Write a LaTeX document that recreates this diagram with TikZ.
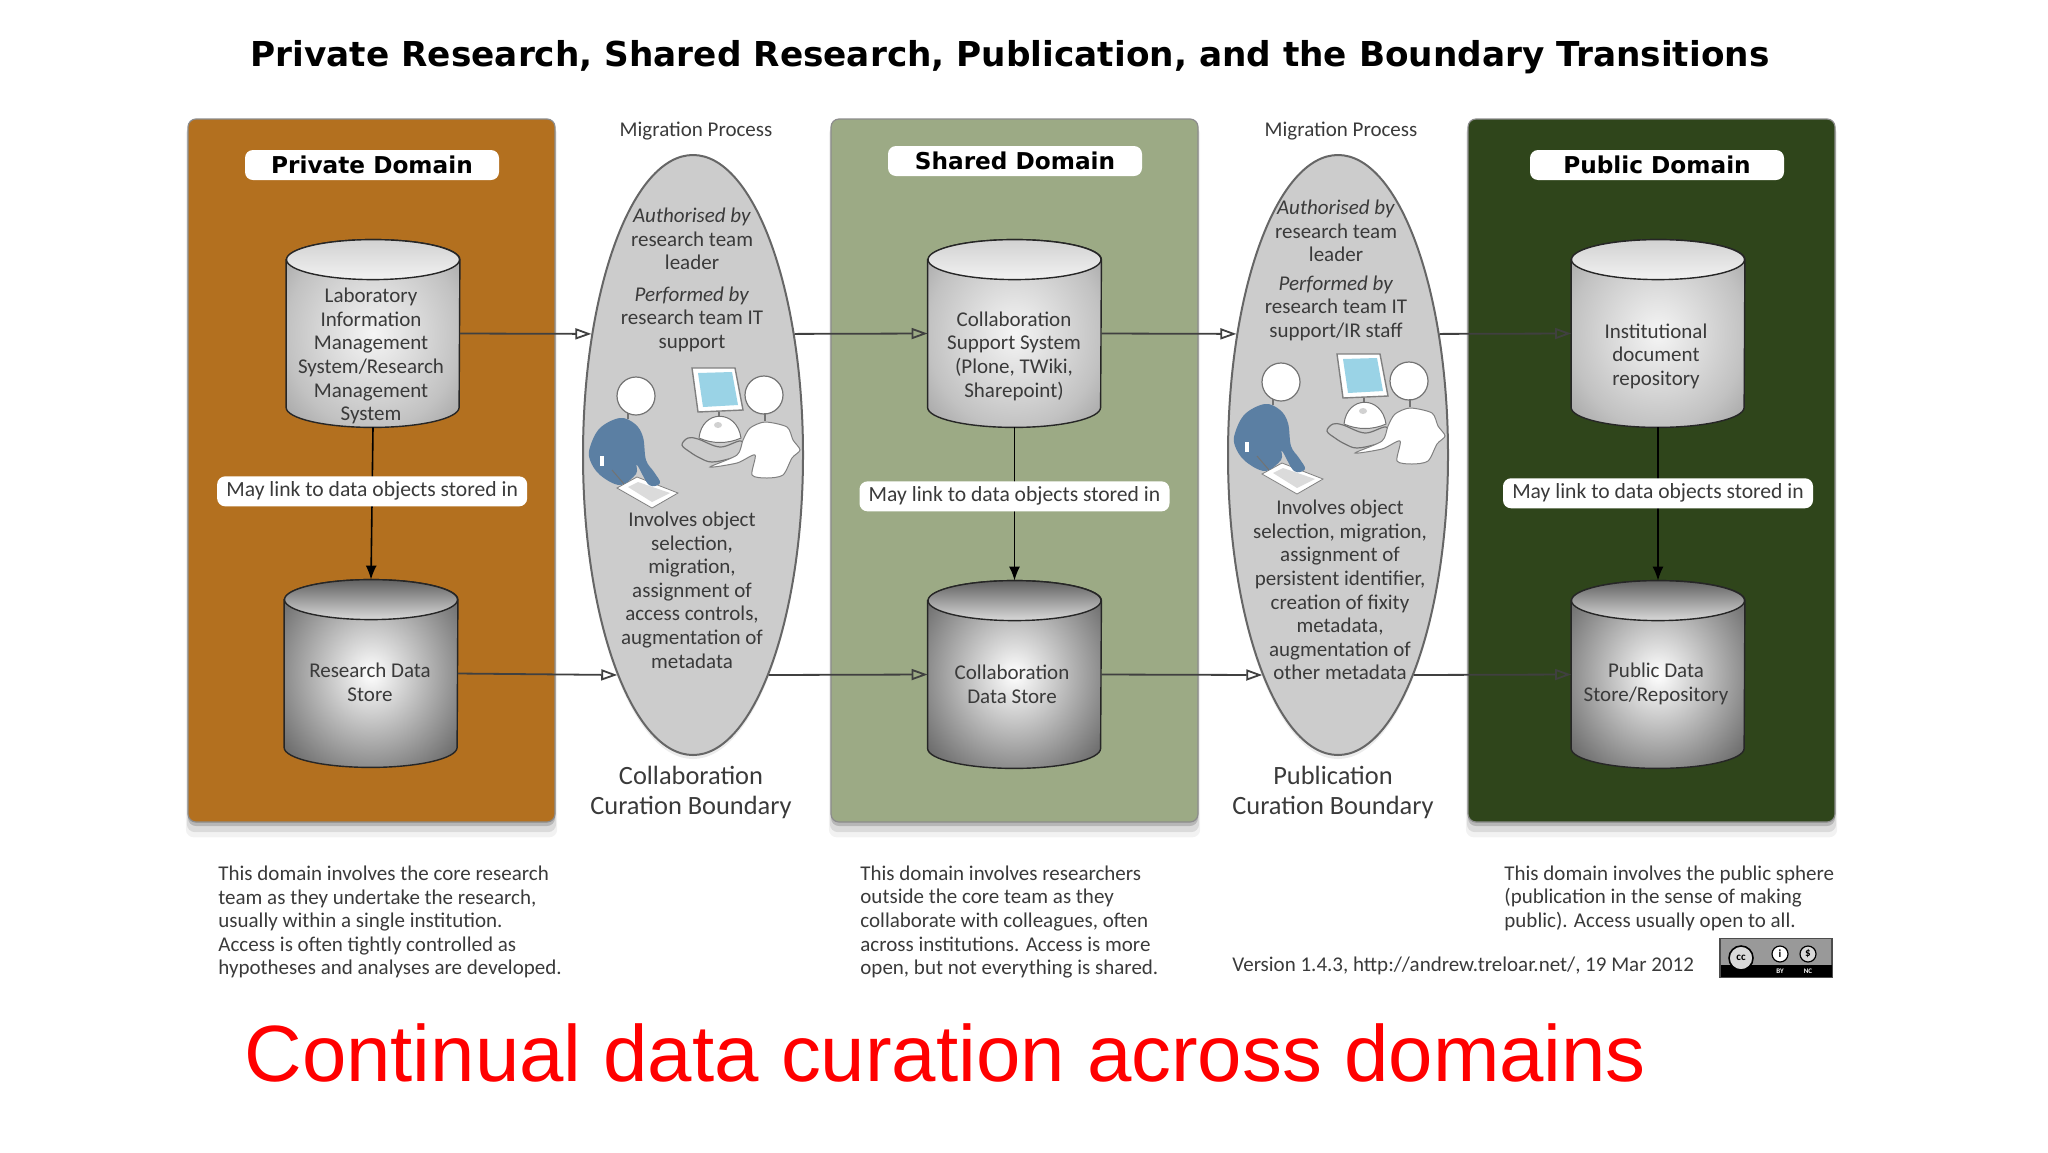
\documentclass[tikz,border=0pt]{standalone}
\usepackage{fontspec}
\setmainfont{Carlito}
\newfontfamily\headfont{DejaVu Sans}
\newfontfamily\redfont{Liberation Sans}
\usetikzlibrary{shapes.geometric,arrows.meta,shadows}

\definecolor{privcol}{HTML}{B3701F}
\definecolor{sharecol}{HTML}{9CAA85}
\definecolor{pubcol}{HTML}{2F451B}
\definecolor{bodytext}{HTML}{3A3A3A}
\definecolor{shirtcol}{HTML}{5B7FA3}
\definecolor{screencol}{HTML}{9AD3E6}

\pgfdeclareradialshading{glowlight}{\pgfpoint{0bp}{0bp}}{color(0bp)=(black!4);color(25bp)=(black!24);color(40bp)=(black!42);color(50bp)=(black!42)}
\pgfdeclareradialshading{glowdark}{\pgfpoint{0bp}{0bp}}{color(0bp)=(white);color(25bp)=(black!45);color(40bp)=(black!72);color(50bp)=(black!72)}

\tikzset{
	panelbox/.style={draw=black!45,line width=.6pt,rounded corners=4pt,minimum width=183.5pt,minimum height=351.5pt,inner sep=0pt,
		drop shadow={shadow xshift=0pt,shadow yshift=-5.5pt,shadow scale=1.012,opacity=.1},
		drop shadow={shadow xshift=0pt,shadow yshift=-4pt,shadow scale=1.006,opacity=.2},
		drop shadow={shadow xshift=0pt,shadow yshift=-2pt,opacity=.4}},
	titlebox/.style={fill=white,rounded corners=4pt,minimum width=127pt,minimum height=15pt,inner sep=0pt,text=black,font=\headfont\bfseries\fontsize{11.6}{13}\selectfont},
	linkbox/.style={fill=white,rounded corners=4pt,minimum width=155pt,minimum height=15pt,inner sep=0pt,text=bodytext,font=\fontsize{10.8}{12}\selectfont},
	boundary/.style={ellipse,draw=black!60,line width=1pt,fill=black!20,minimum width=110pt,minimum height=300pt,inner sep=0pt,drop shadow={shadow xshift=0pt,shadow yshift=-2pt,opacity=.15}},
	dbstore/.style={minimum width=86.5pt,minimum height=93.5pt,inner sep=0pt},
	dbline/.style={draw=black!85,line width=.7pt},
	dblight/.style={dbline,shading=glowlight},
	dbdark/.style={dbline,shading=glowdark},
	caplight/.style={dbline,top color=black!18,bottom color=black!5},
	capdark/.style={dbline,top color=black!62,bottom color=black!15},
	bodylabel/.style={align=center,text=bodytext,font=\fontsize{10.5}{11.8}\selectfont,inner sep=0pt},
	notelabel/.style={align=left,anchor=west,text=bodytext,font=\fontsize{10.5}{11.8}\selectfont,inner sep=0pt},
	flowline/.style={draw=black!75,line width=.9pt,-{Triangle[open,length=8pt,width=5.5pt]}},
	linkline/.style={draw=black,line width=.8pt,-{Latex[length=7pt,width=5.5pt]}},
	meeting/.pic={
		\draw [black!55,fill=white,line width=.6pt](636,396) circle (9.5pt);
		\draw [black!55,fill=white,line width=.6pt](764,395) circle (9.5pt);
		\draw [black!55,line width=.6pt](628,413)--(628,419);
		\draw [black!55,line width=.6pt](765,413)--(765,421);
		\draw [black!50,fill=white,line width=.4pt](617,488)--(637,477)--(678,493)--(652,508)--cycle;
		\fill [black!14](628,487)--(638,482)--(670,493)--(652,502)--cycle;
		\fill [shirtcol] plot [smooth cycle,tension=.6] coordinates {(620,418)(635,424)(643,437)(646,460)(654,472)(660,483)(649,485)(637,465)(636,474)(620,485)(600,475)(590,460)(590,447)(600,428)};
		\draw [white,line width=2pt](602,456)--(602,466);
		\draw [black!55,line width=.5pt](612,470)--(624,484);
		\draw [black!50,fill=white,line width=.7pt](692,368)--(735,368)--(743,410)--(698,412)--cycle;
		\fill [screencol](698,373)--(732,372)--(738,405)--(703,407)--cycle;
		\draw [black!55,line width=.6pt](719,412)--(719,416);
		\draw [black!55,fill=black!20,line width=.6pt] plot [smooth cycle,tension=.6] coordinates {(682,445)(688,438)(698,439)(720,447)(741,441)(745,452)(732,458)(712,462)(700,458)(690,452)};
		\draw [black!55,fill=white,line width=.5pt](699,438) .. controls (702,409) and (737,409) .. (741,438) .. controls (728,444) and (712,444) .. (699,438);
		\fill [black!18](718,425) ellipse (4 and 3);
		\draw [black!50,fill=white,line width=.5pt] plot [smooth cycle,tension=.45] coordinates {(765,422)(787,427)(793,440)(800,450)(792,458)(783,475)(767,478)(752,475)(755,455)(737,463)(710,467)(737,455)(743,440)(750,428)};
	},
}

\begin{document}
\begin{tikzpicture}[x=.5pt,y=-.5pt]
	\useasboundingbox (0,0)rectangle(2048,1152);

	\node (title)at (1010,57) {\headfont\bfseries\fontsize{17.15}{20}\selectfont Private Research, Shared Research, Publication, and the Boundary Transitions};

	\node [panelbox,fill=privcol] (private)at (371.5,470.5) {};
	\node [panelbox,fill=sharecol] (shared)at (1014.5,470.5) {};
	\node [panelbox,fill=pubcol] (public)at (1651.5,470.5) {};

	\node [titlebox] (privatetitle)at (372,165) {Private Domain};
	\node [titlebox] (sharedtitle)at (1015,161) {Shared Domain};
	\node [titlebox] (publictitle)at (1657,165) {Public Domain};

	\node [boundary] (collab)at (693,455) {};
	\node [boundary] (publish)at (1338,455) {};

	\node [bodylabel] (migleft)at (696,131) {Migration Process};
	\node [bodylabel] (migright)at (1341,131) {Migration Process};

	\pic at (0,0) {meeting};
	\pic at (645,-14) {meeting};

	% stores
	\node [dbstore] (lims)at (373,333.5) {};
	\node [dbstore] (rds)at (371,673.5) {};
	\node [dbstore] (css)at (1014.5,333.5) {};
	\node [dbstore] (cds)at (1014.5,674.5) {};
	\node [dbstore] (repo)at (1658,333.5) {};
	\node [dbstore] (pds)at (1658,674.5) {};

	\foreach \s/\b/\k in {lims/dblight/caplight,rds/dbdark/capdark,css/dblight/caplight,cds/dbdark/capdark,repo/dblight/caplight,pds/dbdark/capdark}{
		\draw [\b]([yshift=-10pt]\s.north west) -- ([yshift=10pt]\s.south west) arc (180:360:43.25pt and 10pt) -- ([yshift=-10pt]\s.north east) arc (0:180:43.25pt and 10pt) -- cycle;
		\draw [\k]([yshift=-10pt]\s.north) ellipse (43.25pt and 10pt);
	}

	\node [bodylabel] (limstext)at (371,356) {Laboratory\\Information\\Management\\System/Research\\Management\\System};
	\node [bodylabel] (rdstext)at (370,682) {Research Data\\Store};
	\node [bodylabel] (csstext)at (1014,356) {Collaboration\\Support System\\(Plone, TWiki,\\Sharepoint)};
	\node [bodylabel] (cdstext)at (1012,684) {Collaboration\\Data Store};
	\node [bodylabel] (repotext)at (1656,356) {Institutional\\document\\repository};
	\node [bodylabel] (pdstext)at (1656,684) {Public Data\\Store/Repository};

	% inside the boundaries
	\node [bodylabel] (authleft)at (692,239) {\textit{Authorised by}\\research team\\leader};
	\node [bodylabel] (perfleft)at (692,319) {\textit{Performed by}\\research team IT\\support};
	\node [bodylabel] (actleft)at (692,590) {Involves object\\selection,\\migration,\\assignment of\\access controls,\\augmentation of\\metadata};
	\node [bodylabel] (authright)at (1336,231) {\textit{Authorised by}\\research team\\leader};
	\node [bodylabel] (perfright)at (1336,308) {\textit{Performed by}\\research team IT\\support/IR staff};
	\node [bodylabel] (actright)at (1340,590) {Involves object\\selection, migration,\\assignment of\\persistent identifier,\\creation of fixity\\metadata,\\augmentation of\\other metadata};

	\node [bodylabel,font=\fontsize{13.2}{15}\selectfont] (collabname)at (691,792) {Collaboration\\Curation Boundary};
	\node [bodylabel,font=\fontsize{13.2}{15}\selectfont] (publishname)at (1333,792) {Publication\\Curation Boundary};

	% connectors
	\draw [linkline](lims.south) -- node [linkbox,pos=.42] (limslink) {May link to data objects stored in} (rds.north);
	\draw [linkline](css.south) -- node [linkbox,pos=.45] (csslink) {May link to data objects stored in} (cds.north);
	\draw [linkline](repo.south) -- node [linkbox,pos=.43] (repolink) {May link to data objects stored in} (pds.north);

	\draw [flowline](lims.east) -- (collab.130);
	\draw [flowline](rds.east) -- (collab.-109);
	\draw [flowline](collab.50) -- (css.west);
	\draw [flowline](collab.-71) -- (cds.west);
	\draw [flowline](css.east) -- (publish.130);
	\draw [flowline](cds.east) -- (publish.-109);
	\draw [flowline](publish.50) -- (repo.west);
	\draw [flowline](publish.-71) -- (pds.west);

	% under the panels
	\node [notelabel] (privatenote)at (218,922) {This domain involves the core research\\team as they undertake the research,\\usually within a single institution.\\Access is often tightly controlled as\\hypotheses and analyses are developed.};
	\node [notelabel] (sharednote)at (860,922) {This domain involves researchers\\outside the core team as they\\collaborate with colleagues, often\\across institutions.  Access is more\\open, but not everything is shared.};
	\node [notelabel] (publicnote)at (1504,898) {This domain involves the public sphere\\(publication in the sense of making\\public).  Access usually open to all.};

	\node [notelabel] (version)at (1232,966) {Version 1.4.3,  http://andrew.treloar.net/, 19 Mar 2012};

	\node [fill=black!40,draw=black!70,line width=.6pt,minimum width=56pt,minimum height=19.5pt,inner sep=0pt] (badge)at (1776,958) {};
	\fill [black](1720.5,965)rectangle(1831.5,977);
	\node [circle,draw=black,fill=black!15,line width=.8pt,minimum size=12pt,inner sep=0pt,font=\bfseries\fontsize{5.5}{6}\selectfont] (badgecc)at (1741,958) {cc};
	\node [circle,draw=black,fill=white,line width=.6pt,minimum size=8pt,inner sep=0pt,font=\bfseries\fontsize{5.5}{6}\selectfont] (badgeby)at (1780,954) {i};
	\node [circle,draw=black,fill=black!15,line width=.6pt,minimum size=8pt,inner sep=0pt,font=\bfseries\fontsize{5.5}{6}\selectfont] (badgenc)at (1808,954) {\$};
	\node [text=white,inner sep=0pt,font=\bfseries\fontsize{3.5}{4}\selectfont] (badgebytext)at (1780,971) {BY};
	\node [text=white,inner sep=0pt,font=\bfseries\fontsize{3.5}{4}\selectfont] (badgenctext)at (1808,971) {NC};

	\node [text=red,anchor=base west,inner sep=0pt] (caption)at (244,1081) {\redfont\fontsize{39.9}{46}\selectfont Continual data curation across domains};
\end{tikzpicture}
\end{document}
